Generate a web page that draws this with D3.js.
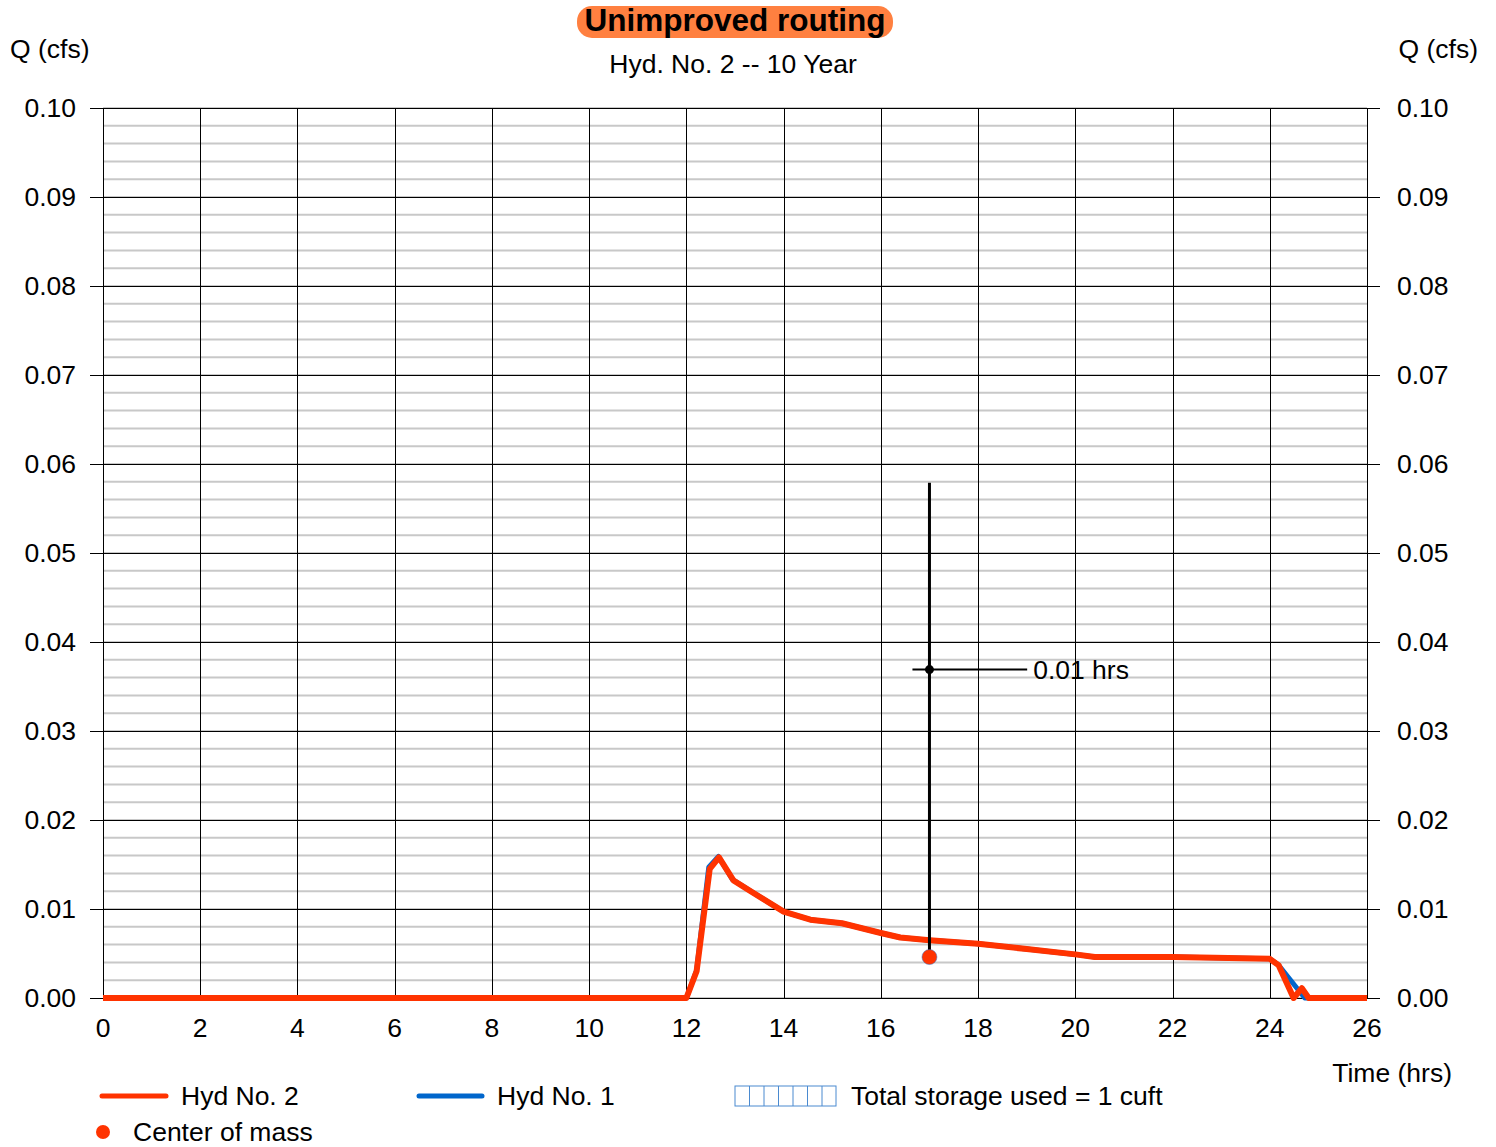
<!DOCTYPE html>
<html>
<head>
<meta charset="utf-8">
<script src="https://cdn.jsdelivr.net/npm/d3@7"></script>
<style>
  body { margin: 0; background: #fff; }
  text { font-family: "Liberation Sans", Arial, sans-serif; fill: #000; }
</style>
</head>
<body>
<script>
var width = 1496;
var height = 1147;

// hydrograph values
var hyd2Time = [0, 12.0, 12.21, 12.48, 12.67, 12.97, 13.38, 14.0, 14.55, 15.2, 16.0, 16.4, 17.0, 18.0, 19.0, 20.0, 20.4, 22.0, 24.0, 24.18, 24.49, 24.66, 24.8, 26.0];
var hyd2Q    = [0, 0, 0.0030, 0.0145, 0.0158, 0.0132, 0.0118, 0.0097, 0.0088, 0.0084, 0.0073, 0.0068, 0.0065, 0.0061, 0.0055, 0.0049, 0.0046, 0.0046, 0.0044, 0.0037, 0, 0.0011, 0, 0];
var hyd1Time = [0, 12.0, 12.21, 12.46, 12.66, 12.95, 13.38, 14.0, 14.55, 15.2, 16.0, 16.4, 17.0, 18.0, 19.0, 20.0, 20.4, 22.0, 24.0, 24.18, 24.72, 26.0];
var hyd1Q    = [0, 0, 0.0031, 0.0147, 0.0159, 0.0133, 0.0118, 0.0097, 0.0088, 0.0084, 0.0073, 0.0068, 0.0065, 0.0061, 0.0055, 0.0049, 0.0046, 0.0046, 0.0044, 0.0037, 0, 0];

var centerTime = 17.0, centerQ = 0.0046;
var barTop = 0.0579, crossQ = 0.0369, crossFrom = 16.65, crossTo = 19.01;
var crossLabel = "0.01 hrs";

var xTicks = d3.range(0, 27, 2);
var yTicks = d3.range(0, 0.1001, 0.01);
var yMinor = d3.range(0, 0.1001, 0.002);

var plotL = 103, plotR = 1367, plotT = 108, plotB = 998;
var fs = "26.5px";

var x = d3.scaleLinear().domain([0, 26]).range([plotL, plotR]);
var y = d3.scaleLinear().domain([0, 0.10]).range([plotB, plotT]);

var svg = d3.select("body").append("svg")
  .attr("width", width)
  .attr("height", height);

// minor horizontal grid
svg.append("g").selectAll("line")
  .data(yMinor)
  .enter().append("line")
  .attr("x1", plotL).attr("x2", plotR)
  .attr("y1", function (d) { return y(d); })
  .attr("y2", function (d) { return y(d); })
  .style("stroke", "#c8c8c8")
  .style("stroke-width", 2);

// vertical grid
svg.append("g").selectAll("line")
  .data(xTicks)
  .enter().append("line")
  .attr("x1", function (d) { return Math.round(x(d)) + 0.5; })
  .attr("x2", function (d) { return Math.round(x(d)) + 0.5; })
  .attr("y1", plotT).attr("y2", plotB)
  .style("stroke", "#000")
  .style("stroke-width", 1);

// major horizontal grid with outside ticks on both sides
svg.append("g").selectAll("line")
  .data(yTicks)
  .enter().append("line")
  .attr("x1", plotL - 13).attr("x2", plotR + 13)
  .attr("y1", function (d) { return Math.round(y(d)) + 0.5; })
  .attr("y2", function (d) { return Math.round(y(d)) + 0.5; })
  .style("stroke", "#000")
  .style("stroke-width", 1);

// left axis labels
svg.append("g").selectAll("text")
  .data(yTicks)
  .enter().append("text")
  .attr("x", 76)
  .attr("y", function (d) { return y(d) + 9; })
  .attr("text-anchor", "end")
  .style("font-size", fs)
  .text(function (d) { return d3.format(".2f")(d); });

// right axis labels
svg.append("g").selectAll("text")
  .data(yTicks)
  .enter().append("text")
  .attr("x", 1397)
  .attr("y", function (d) { return y(d) + 9; })
  .style("font-size", fs)
  .text(function (d) { return d3.format(".2f")(d); });

// x axis labels
svg.append("g").selectAll("text")
  .data(xTicks)
  .enter().append("text")
  .attr("x", function (d) { return x(d); })
  .attr("y", 1037)
  .attr("text-anchor", "middle")
  .style("font-size", fs)
  .text(function (d) { return d; });

svg.append("text").attr("x", 10).attr("y", 58).style("font-size", fs).text("Q (cfs)");
svg.append("text").attr("x", 1478).attr("y", 58).attr("text-anchor", "end").style("font-size", fs).text("Q (cfs)");
svg.append("text").attr("x", 1452).attr("y", 1082).attr("text-anchor", "end").style("font-size", fs).text("Time (hrs)");

// title
svg.append("rect")
  .attr("x", 577).attr("y", 6).attr("width", 316).attr("height", 32)
  .attr("rx", 15)
  .style("fill", "#ff8040");
svg.append("text")
  .attr("x", 735).attr("y", 31)
  .attr("text-anchor", "middle")
  .style("font-size", "31.5px")
  .style("font-weight", "bold")
  .text("Unimproved routing");
svg.append("text")
  .attr("x", 733).attr("y", 73)
  .attr("text-anchor", "middle")
  .style("font-size", fs)
  .text("Hyd. No. 2 -- 10 Year");

// hydrographs
var line = d3.line()
  .x(function (d) { return x(d[0]); })
  .y(function (d) { return y(d[1]); });

svg.append("path")
  .datum(d3.zip(hyd1Time, hyd1Q))
  .attr("d", line)
  .style("fill", "none")
  .style("stroke", "#0066cc")
  .style("stroke-width", 5)
  .style("stroke-linejoin", "round");

svg.append("path")
  .datum(d3.zip(hyd2Time, hyd2Q))
  .attr("d", line)
  .style("fill", "none")
  .style("stroke", "#ff3300")
  .style("stroke-width", 6)
  .style("stroke-linejoin", "round");

// center of mass marker
svg.append("line")
  .attr("x1", x(centerTime)).attr("x2", x(centerTime))
  .attr("y1", y(barTop)).attr("y2", y(centerQ))
  .style("stroke", "#000").style("stroke-width", 3);
svg.append("line")
  .attr("x1", x(crossFrom)).attr("x2", x(crossTo))
  .attr("y1", y(crossQ)).attr("y2", y(crossQ))
  .style("stroke", "#000").style("stroke-width", 2);
svg.append("circle")
  .attr("cx", x(centerTime)).attr("cy", y(crossQ)).attr("r", 4.5)
  .style("fill", "#000");
svg.append("text")
  .attr("x", x(crossTo) + 6).attr("y", y(crossQ) + 9)
  .style("font-size", fs)
  .text(crossLabel);
svg.append("circle")
  .attr("cx", x(centerTime)).attr("cy", y(centerQ)).attr("r", 7.5)
  .style("fill", "#ff3300")
  .style("stroke", "#3377cc")
  .style("stroke-width", 0.5);

// legend
var legend = svg.append("g").attr("class", "legend");
legend.append("line").attr("x1", 102).attr("x2", 166).attr("y1", 1096).attr("y2", 1096)
  .style("stroke", "#ff3300").style("stroke-width", 5).style("stroke-linecap", "round");
legend.append("text").attr("x", 181).attr("y", 1105).style("font-size", fs).text("Hyd No. 2");
legend.append("line").attr("x1", 419).attr("x2", 482).attr("y1", 1096).attr("y2", 1096)
  .style("stroke", "#0066cc").style("stroke-width", 5).style("stroke-linecap", "round");
legend.append("text").attr("x", 497).attr("y", 1105).style("font-size", fs).text("Hyd No. 1");

legend.append("rect").attr("x", 735).attr("y", 1086).attr("width", 101).attr("height", 20)
  .style("fill", "none").style("stroke", "#4a8ad0").style("stroke-width", 1);
legend.selectAll(".hatch")
  .data(d3.range(1, 7))
  .enter().append("line")
  .attr("class", "hatch")
  .attr("x1", function (d) { return 735 + d * 14.5; })
  .attr("x2", function (d) { return 735 + d * 14.5; })
  .attr("y1", 1086).attr("y2", 1106)
  .style("stroke", "#4a8ad0").style("stroke-width", 1);
legend.append("text").attr("x", 851).attr("y", 1105).style("font-size", fs).text("Total storage used = 1 cuft");

legend.append("circle").attr("cx", 103).attr("cy", 1132).attr("r", 7).style("fill", "#ff3300");
legend.append("text").attr("x", 133).attr("y", 1141).style("font-size", fs).text("Center of mass");
</script>
</body>
</html>
